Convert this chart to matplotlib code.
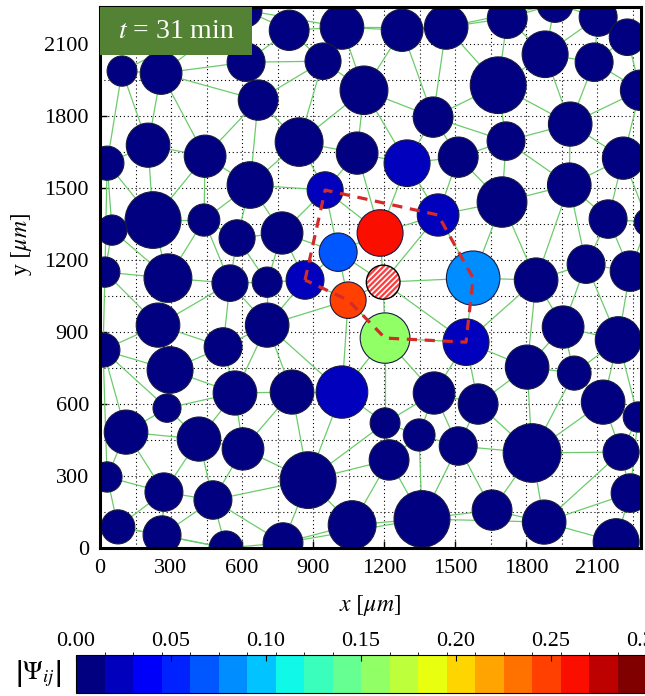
import numpy as np
import matplotlib
matplotlib.use('Agg')
import matplotlib.pyplot as plt
import matplotlib.tri as mtri
from matplotlib.patches import Circle, Rectangle
from matplotlib.collections import LineCollection
from matplotlib.colors import BoundaryNorm
from matplotlib.cm import ScalarMappable

plt.rcParams['font.family'] = ['Liberation Serif', 'DejaVu Serif']
plt.rcParams['mathtext.fontset'] = 'stix'
plt.rcParams['hatch.linewidth'] = 1.6

# cell centres [um], radii [um] and |Psi_ij|
cell_x = [613, 799, 1022, 1276, 1462, 1720, 1922, 2104, 2227, 93,
          258, 617, 942, 1880, 2087, 668, 1115, 1682, 2282, 1407,
          1986, 203, 30, 444, 841, 1086, 1297, 1513, 1715, 2210,
          634, 951, 1698, 1982, 2146, 2315, 1428, 1183, 224, 439,
          51, 579, 769, 1006, 706, 866, 1196, 1576, 1842, 2053,
          2239, 287, 21, 549, 1048, 13, 245, 520, 706, 1204,
          1546, 1956, 2189, 296, 283, 570, 811, 1022, 1411, 1597,
          1804, 2003, 2125, 2273, 110, 418, 604, 1204, 1348, 1513,
          1825, 1221, 2201, 30, 270, 477, 879, 2239, 76, 262,
          532, 773, 1065, 1360, 1656, 1876, 2180]
cell_y = [2242, 2158, 2171, 2158, 2171, 2208, 2267, 2213, 2129, 1988,
          1979, 2025, 2029, 2058, 2025, 1867, 1908, 1929, 1908, 1796,
          1767, 1679, 1604, 1633, 1692, 1646, 1604, 1629, 1696, 1625,
          1513, 1492, 1442, 1513, 1371, 1358, 1388, 1313, 1367, 1367,
          1325, 1292, 1313, 1233, 1108, 1117, 1108, 1125, 1117, 1183,
          1154, 1125, 1150, 1104, 1033, 825, 929, 838, 929, 875,
          858, 921, 867, 742, 583, 646, 650, 650, 646, 600,
          754, 729, 608, 546, 483, 454, 413, 521, 471, 425,
          396, 367, 400, 296, 233, 200, 283, 229, 88, 54,
          0, 21, 96, 121, 158, 108, 25]
cell_r = [71, 84, 92, 88, 92, 84, 76, 80, 76, 63,
          88, 80, 76, 97, 80, 84, 101, 118, 84, 84,
          92, 92, 71, 88, 101, 88, 97, 84, 80, 88,
          97, 76, 105, 92, 80, 59, 88, 97, 118, 67,
          63, 76, 88, 80, 63, 80, 71, 113, 92, 80,
          84, 101, 63, 76, 76, 71, 92, 80, 92, 105,
          97, 88, 97, 97, 59, 92, 92, 109, 88, 84,
          92, 71, 92, 63, 92, 92, 88, 63, 67, 80,
          122, 84, 76, 63, 80, 80, 118, 80, 71, 80,
          71, 84, 101, 118, 84, 92, 97]
cell_psi = [0.0] * len(cell_x)
cell_psi[26] = 0.025
cell_psi[31] = 0.02
cell_psi[36] = 0.02
cell_psi[37] = 0.265
cell_psi[43] = 0.07
cell_psi[45] = 0.025
cell_psi[47] = 0.085
cell_psi[54] = 0.25
cell_psi[59] = 0.16
cell_psi[60] = 0.025
cell_psi[67] = 0.02

ref_cell = 46
path_cells = [45, 31, 36, 47, 60, 59, 54, 45]

cbar_ticks = [0.0, 0.05, 0.10, 0.15, 0.20, 0.25, 0.30]
axis_ticks = [0, 300, 600, 900, 1200, 1500, 1800, 2100]

cmap = plt.get_cmap('jet', 20)
norm = BoundaryNorm(np.linspace(0, 0.3, 21), 20)

fig = plt.figure(figsize=(6.45, 6.96), dpi=100)
ax = fig.add_axes([100/645, 148/696, 541/645, 541/696])
ax.set_xlim(0, 2285)
ax.set_ylim(0, 2255)

# dotted grid every 150 um
ax.set_xticks(axis_ticks)
ax.set_yticks(axis_ticks)
ax.set_xticks(np.arange(150, 2285, 300), minor=True)
ax.set_yticks(np.arange(150, 2255, 300), minor=True)
ax.grid(True, which='both', color='k', linestyle=(0, (1, 2.5)), linewidth=0.8)
ax.set_axisbelow(True)
ax.tick_params(which='major', direction='in', length=5, width=1, labelsize=16, pad=8)
ax.tick_params(which='minor', length=0)
for s in ax.spines.values():
    s.set_linewidth(2.2)

# neighbour network (Delaunay)
x = np.array(cell_x, float)
y = np.array(cell_y, float)
tri = mtri.Triangulation(x, y)
segs = []
for i, j in tri.edges:
    if np.hypot(x[i] - x[j], y[i] - y[j]) < 600:
        segs.append([(x[i], y[i]), (x[j], y[j])])
ax.add_collection(LineCollection(segs, colors='#6ccc6c', linewidths=0.9, zorder=1))

# cells
for k in range(len(cell_x)):
    if k == ref_cell:
        ax.add_patch(Circle((cell_x[k], cell_y[k]), cell_r[k], facecolor='white',
                            edgecolor='#ff3a3a', hatch='//////', linewidth=0, zorder=2))
        ax.add_patch(Circle((cell_x[k], cell_y[k]), cell_r[k], fill=False,
                            edgecolor='k', linewidth=1.0, zorder=3))
    else:
        ax.add_patch(Circle((cell_x[k], cell_y[k]), cell_r[k],
                            facecolor=cmap(norm(cell_psi[k])),
                            edgecolor='#1a1a40', linewidth=0.8, zorder=2))

# first-neighbour contour
ax.plot([cell_x[k] for k in path_cells], [cell_y[k] for k in path_cells],
        color='#d42a2a', linewidth=2.3, dashes=(3.2, 2.4), zorder=4)

# time stamp
ax.add_patch(Rectangle((0, 1 - 48/541), 152/541, 48/541, transform=ax.transAxes,
                       facecolor='#548235', edgecolor='none', zorder=6))
ax.text(76/541, 1 - 24/541, r'$t$ = 31 min', transform=ax.transAxes, color='white',
        fontsize=20, ha='center', va='center', zorder=7)

fig.text(370/645, 1 - 606/696, r'$x\ [\mu m]$', fontsize=17, ha='center', va='center')
fig.text(22/645, 1 - 245/696, r'y $[\mu m]$', fontsize=17, ha='center', va='center',
         rotation=90)

# colour bar
cax = fig.add_axes([76/645, 3/696, 570/645, 38/696])
cb = fig.colorbar(ScalarMappable(norm=norm, cmap=cmap), cax=cax, orientation='horizontal',
                  ticks=cbar_ticks)
cb.ax.xaxis.set_ticks_position('top')
cb.ax.set_xticklabels(['%.2f' % t for t in cbar_ticks])
cb.ax.tick_params(direction='in', length=4, width=0.8, labelsize=16, pad=3)
cb.outline.set_linewidth(0.8)
fig.text(38/645, 1 - 674/696, r'$\left|\Psi_{ij}\right|$', fontsize=19,
         ha='center', va='center')

fig.savefig('out.png', dpi=100)
